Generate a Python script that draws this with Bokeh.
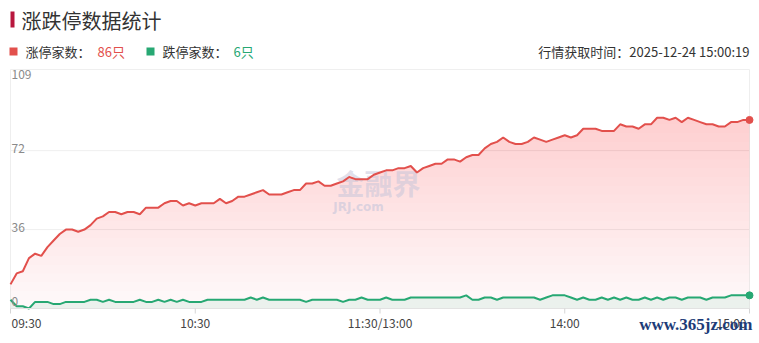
import numpy as np
from bokeh.plotting import figure
from bokeh.models import Range1d
from bokeh.core.properties import value
from bokeh.embed import file_html
from bokeh.resources import INLINE

# ---------------- data ----------------
title_text = "涨跌停数据统计"
series_names = ["涨停家数", "跌停家数"]
unit = "只"
fetch_label = "行情获取时间："
fetch_time = "2025-12-24 15:00:19"

# one value every 2 minutes, 09:30 -> 11:30 / 13:00 -> 15:00
limit_up = [11, 16, 17, 23, 25, 24, 28, 31, 34, 36,
            36, 35, 36, 38, 41, 42, 44, 44, 43, 44,
            44, 43, 46, 46, 46, 48, 49, 49, 47, 48,
            47, 48, 48, 48, 50, 48, 49, 51, 51, 52,
            53, 54, 52, 52, 52, 53, 54, 54, 57, 57,
            58, 56, 56, 57, 58, 60, 59, 59, 59, 61,
            62, 63, 63, 64, 64, 65, 62, 64, 65, 66,
            66, 68, 68, 67, 69, 70, 70, 73, 75, 76,
            78, 76, 75, 75, 76, 78, 77, 76, 77, 78,
            79, 78, 79, 82, 82, 82, 81, 81, 81, 84,
            83, 83, 82, 84, 84, 87, 87, 86, 87, 85,
            87, 86, 85, 84, 84, 83, 83, 85, 85, 86,
            86]
limit_down = [4, 1, 1, 0, 3, 3, 3, 2, 2, 3,
              3, 3, 3, 4, 4, 3, 4, 3, 3, 3,
              3, 4, 3, 3, 4, 3, 4, 3, 4, 3,
              3, 3, 4, 4, 4, 4, 4, 4, 4, 5,
              4, 5, 4, 4, 4, 4, 4, 4, 3, 4,
              4, 4, 4, 4, 3, 4, 4, 5, 4, 4,
              4, 5, 4, 4, 4, 5, 5, 5, 5, 5,
              5, 5, 5, 5, 6, 4, 4, 5, 5, 4,
              5, 5, 5, 5, 5, 5, 4, 5, 6, 6,
              6, 5, 4, 5, 4, 4, 5, 4, 5, 4,
              5, 4, 4, 5, 4, 5, 4, 5, 5, 4,
              5, 5, 5, 4, 5, 5, 5, 6, 6, 6,
              6]
x_ticks = [0, 30, 60, 90, 120]
x_tick_labels = ["09:30", "10:30", "11:30/13:00", "14:00", "15:00"]
y_ticks = [0, 36, 72, 109]

# ---------------- layout ----------------
W, H = 759, 343
L, R, T, B = 10, 749, 69, 308
N = len(limit_up)
XS = (R - L) / (N - 1)
YMAX = y_ticks[-1]
YS = (B - T) / YMAX


def X(px):
    return (px - L) / XS


def Y(py):
    return (B - py) / YS


RED = "#e2504c"
GREEN = "#27a873"
FONT = value("Noto Sans CJK SC")

p = figure(width=W, height=H, x_range=Range1d(X(0), X(W)), y_range=Range1d(Y(H), Y(0)),
           output_backend="svg", toolbar_location=None, min_border=0,
           x_axis_location=None, y_axis_location=None)
p.grid.visible = False
p.outline_line_color = None
p.background_fill_color = "white"
p.border_fill_color = "white"

xs = np.arange(N)
up = np.array(limit_up, dtype=float)
down = np.array(limit_down, dtype=float)

# grid + frame
p.multi_line(xs=[[0, N - 1] for _ in y_ticks[1:]], ys=[[t, t] for t in y_ticks[1:]],
             line_color="#efefef", line_width=1)
p.multi_line(xs=[[0, 0], [N - 1, N - 1]], ys=[[0, YMAX], [0, YMAX]],
             line_color="#eeeeee", line_width=1)

# gradient area under limit-up line
p.varea(x=xs, y1=0, y2=up, fill_color="#d9486a", fill_alpha=0.03)
for t in range(4, int(up.max()), 4):
    p.varea(x=xs, y1=t, y2=np.maximum(up, t), fill_color="#d9486a", fill_alpha=0.011)
# green area
p.varea(x=xs, y1=0, y2=down, fill_color=GREEN, fill_alpha=0.09)

# watermark (jrj)
p.text(x=[X(378)], y=[Y(182)], text=["金融界"], text_font=value("Noto Sans CJK SC"),
       text_font_size="28px", text_font_style="bold", text_color="#c6c5da", text_alpha=0.55,
       text_align="center", text_baseline="middle")
p.text(x=[X(358)], y=[Y(206)], text=["JRJ.com"], text_font=value("DejaVu Sans"),
       text_font_size="12px", text_font_style="bold", text_color="#c6c5da", text_alpha=0.6,
       text_align="center", text_baseline="middle")

# lines
p.line(xs, up, line_color=RED, line_width=2)
p.line(xs, down, line_color=GREEN, line_width=2)
p.scatter([N - 1], [up[-1]], size=7, fill_color=RED, line_color=RED)
p.scatter([N - 1], [down[-1]], size=7, fill_color=GREEN, line_color=GREEN)

# x axis
p.line([0, N - 1], [0, 0], line_color="#e2e2e2", line_width=1)
p.segment(x0=x_ticks, y0=[0] * len(x_ticks), x1=x_ticks, y1=[Y(B + 5)] * len(x_ticks),
          line_color="#d5d5d5", line_width=1)
aligns = ["left", "center", "center", "center", "right"]
for xt, lab, al in zip(x_ticks, x_tick_labels, aligns):
    p.text(x=[xt], y=[Y(321.5)], text=[lab], text_font=FONT, text_font_size="12px",
           text_color="#444444", text_align=al, text_baseline="middle",
           x_offset=(1 if al == "left" else (-3 if al == "right" else 0)))

# y labels inside plot
y_offsets = [-7, -2, -2, 5]
for yt, off in zip(y_ticks, y_offsets):
    p.text(x=[X(L + 1)], y=[yt], text=[str(yt)], text_font=FONT, text_font_size="12px",
           text_color="#8a8a8a", text_align="left", text_baseline="middle", y_offset=off)

# title
p.quad(left=[X(10)], right=[X(14)], top=[Y(11)], bottom=[Y(27)], fill_color="#b8173e",
       line_color=None)
p.text(x=[X(21)], y=[Y(20)], text=[title_text], text_font=FONT, text_font_size="20px",
       text_color="#333333", text_align="left", text_baseline="middle")

# legend row
p.scatter([X(13)], [Y(51)], marker="square", size=8, fill_color=RED, line_color=None)
p.text(x=[X(25)], y=[Y(51)], text=[series_names[0] + "："], text_font=FONT,
       text_font_size="13px", text_color="#333333", text_align="left", text_baseline="middle")
p.text(x=[X(97)], y=[Y(51)], text=[f"{int(up[-1])}{unit}"], text_font=FONT,
       text_font_size="13px", text_color=RED, text_align="left", text_baseline="middle")
p.scatter([X(150)], [Y(51)], marker="square", size=8, fill_color=GREEN, line_color=None)
p.text(x=[X(162)], y=[Y(51)], text=[series_names[1] + "："], text_font=FONT,
       text_font_size="13px", text_color="#333333", text_align="left", text_baseline="middle")
p.text(x=[X(233)], y=[Y(51)], text=[f"{int(down[-1])}{unit}"], text_font=FONT,
       text_font_size="13px", text_color=GREEN, text_align="left", text_baseline="middle")
p.text(x=[X(749)], y=[Y(51)], text=[fetch_label + fetch_time], text_font=FONT,
       text_font_size="13px", text_color="#333333", text_align="right", text_baseline="middle")

# site watermark
p.text(x=[X(752)], y=[Y(324)], text=["www.365jz.com"], text_font=value("Liberation Serif"),
       text_font_size="17px", text_font_style="bold", text_color="#1d3c78",
       text_align="right", text_baseline="middle")

open("out.html", "w").write(file_html(p, INLINE))
